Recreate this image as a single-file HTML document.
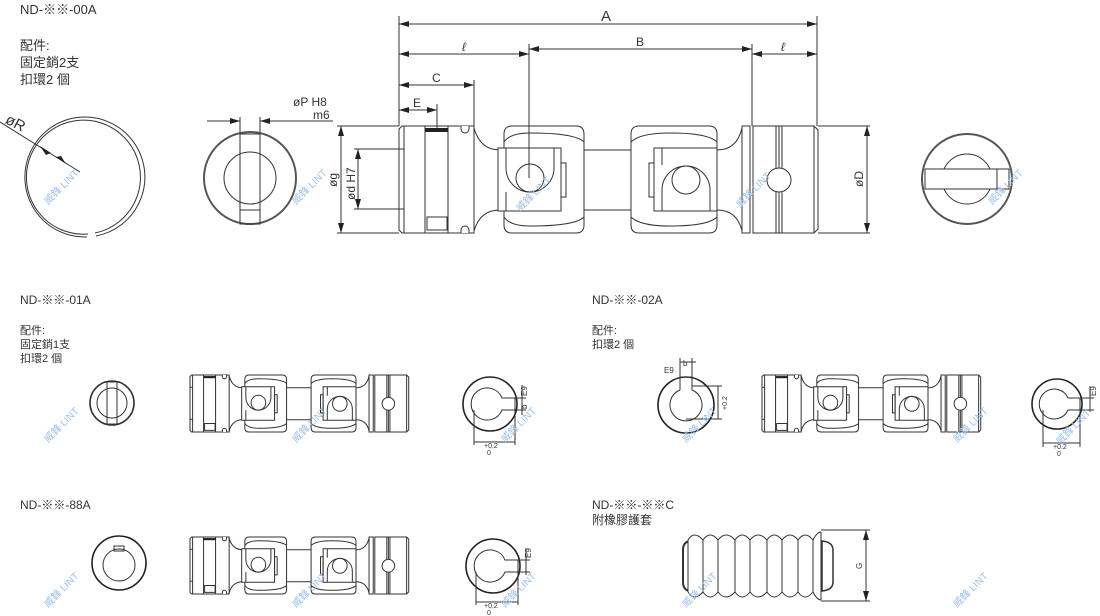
<!DOCTYPE html>
<html><head><meta charset="utf-8"><style>
html,body{margin:0;padding:0;background:#fff;}
svg{display:block;}
text{font-family:"Liberation Sans","Noto Sans CJK TC",sans-serif;fill:#333;}
.l{fill:none;stroke:#333;stroke-width:1;vector-effect:non-scaling-stroke;}
.w{fill:#fff;stroke:#333;stroke-width:1;vector-effect:non-scaling-stroke;}
.wm text{font-size:10px;fill:#9cc0ea;}
</style></head><body>
<svg width="1100" height="616" viewBox="0 0 1100 616" xmlns="http://www.w3.org/2000/svg">
<defs>
<marker id="ar" markerWidth="10" markerHeight="6" refX="10" refY="3" orient="auto-start-reverse" markerUnits="userSpaceOnUse"><path d="M0,0 L10,3 L0,6 z" fill="#222"/></marker>
<g id="cp">
 <path class="w" d="M402,126 H474 V233 H402 L399,230 V129 Z"/>
 <line class="l" x1="404" y1="126" x2="404" y2="233"/>
 <line class="l" x1="399" y1="149" x2="404" y2="149"/><line class="l" x1="399" y1="209" x2="404" y2="209"/>
 <rect class="w" x="425" y="126" width="23" height="107"/>
 <rect x="425" y="128" width="23" height="4" fill="#222"/>
 <rect class="l" x="427" y="217" width="20" height="13"/>
 <path class="w" d="M461,126 v3 a4,4 0 0 0 8,0 v-3"/><path class="w" d="M461,233 v-3 a4,4 0 0 1 8,0 v3"/>
 <path class="l" d="M474,128 Q480,150 500,150 M474,231 Q480,210 500,210"/>
 <path class="w" d="M512,126 H576 Q584,126 584,134 V225 Q584,233 576,233 H512 Q504,233 504,225 V134 Q504,126 512,126 Z"/>
 <path class="l" d="M504,142 Q510,133 530,133 Q575,133 584,142 M504,217 Q510,226 530,226 Q575,226 584,217"/>
 <rect class="w" x="498" y="148" width="63" height="63"/>
 <path class="l" d="M506,148 V168 A24,24 0 0 0 554,168 V148 M506,211 V192"/>
 <circle class="l" cx="530" cy="178" r="14"/>
 <rect class="l" x="561" y="163" width="5" height="34"/>
 <line class="l" x1="584" y1="150" x2="631" y2="150"/><line class="l" x1="584" y1="210" x2="631" y2="210"/>
 <path class="w" d="M639,126 H709 Q717,126 717,134 V225 Q717,233 709,233 H639 Q631,233 631,225 V134 Q631,126 639,126 Z"/>
 <path class="l" d="M631,142 Q640,133 670,133 Q708,133 717,142 M631,217 Q640,226 670,226 Q708,226 717,217"/>
 <rect class="w" x="654" y="148" width="63" height="63"/>
 <path class="l" d="M662,211 V190 A24,24 0 0 1 710,190 V211 M662,148 V165"/>
 <circle class="l" cx="686" cy="180" r="14"/>
 <rect class="l" x="649" y="163" width="5" height="34"/>
 <path class="l" d="M717,150 Q737,150 742,128 M717,210 Q737,210 742,231"/>
 <rect class="w" x="742" y="126" width="8" height="107"/>
 <path class="w" d="M753,126 H814 L818,130 V229 L814,233 H753 Z"/>
 <line class="l" x1="776" y1="126" x2="776" y2="233"/><line class="l" x1="779" y1="126" x2="779" y2="233"/><line class="l" x1="782" y1="126" x2="782" y2="233"/>
 <circle class="w" cx="779" cy="180" r="12"/>
 <line class="l" x1="814" y1="126" x2="814" y2="233"/>
</g>
</defs>

<text x="20" y="14" font-size="13">ND-※※-00A</text>
<text x="20" y="50" font-size="13">配件:</text>
<text x="20" y="67" font-size="13">固定銷2支</text>
<text x="20" y="84" font-size="13">扣環2 個</text>

<!-- snap ring -->
<path class="l" d="M96,236 A60,60 0 1 0 87,237"/>
<path class="l" d="M95,233 A57,57 0 1 0 88,234"/>
<line class="l" x1="0" y1="122" x2="80" y2="172"/>
<path d="M40,146 L51,153 L46,155 z" fill="#222"/><path d="M66,164 L56,157 L61,156 z" fill="#222"/>
<text x="6" y="128" font-size="15" transform="rotate(28 16 122)">øR</text>

<!-- left end view -->
<circle cx="250" cy="178" r="46" fill="none" stroke="#555" stroke-width="2"/>
<circle class="l" cx="250" cy="178" r="26"/>
<rect class="l" x="240" y="134" width="20" height="90"/>
<line class="l" x1="240" y1="210" x2="260" y2="210"/>
<line class="l" x1="240" y1="117" x2="240" y2="134"/><line class="l" x1="260" y1="117" x2="260" y2="134"/>
<line class="l" x1="207" y1="121" x2="240" y2="121" marker-end="url(#ar)"/>
<line class="l" x1="333" y1="121" x2="260" y2="121" marker-end="url(#ar)"/>
<text x="293" y="106" font-size="12">øP  H8</text>
<text x="313" y="119" font-size="12">m6</text>

<use href="#cp"/>
<g class="l">
<line x1="399" y1="16" x2="399" y2="126"/><line x1="817" y1="16" x2="817" y2="126"/>
<line x1="529" y1="44" x2="529" y2="178"/><line x1="752" y1="44" x2="752" y2="126"/>
<line x1="474" y1="80" x2="474" y2="126"/><line x1="437" y1="104" x2="437" y2="128"/>
<line x1="818" y1="126" x2="870" y2="126"/><line x1="818" y1="233" x2="870" y2="233"/>
<line x1="337" y1="126" x2="399" y2="126"/><line x1="337" y1="233" x2="399" y2="233"/>
<line x1="354" y1="149" x2="399" y2="149"/><line x1="354" y1="209" x2="399" y2="209"/>
</g>
<line class="l" x1="399" y1="24" x2="817" y2="24" marker-start="url(#ar)" marker-end="url(#ar)"/>
<line class="l" x1="399" y1="54" x2="529" y2="54" marker-start="url(#ar)" marker-end="url(#ar)"/>
<line class="l" x1="529" y1="49" x2="752" y2="49" marker-start="url(#ar)" marker-end="url(#ar)"/>
<line class="l" x1="752" y1="54" x2="817" y2="54" marker-start="url(#ar)" marker-end="url(#ar)"/>
<line class="l" x1="399" y1="85" x2="474" y2="85" marker-start="url(#ar)" marker-end="url(#ar)"/>
<line class="l" x1="399" y1="110" x2="437" y2="110" marker-start="url(#ar)" marker-end="url(#ar)"/>
<line class="l" x1="341" y1="126" x2="341" y2="233" marker-start="url(#ar)" marker-end="url(#ar)"/>
<line class="l" x1="358" y1="149" x2="358" y2="209" marker-start="url(#ar)" marker-end="url(#ar)"/>
<line class="l" x1="867" y1="126" x2="867" y2="233" marker-start="url(#ar)" marker-end="url(#ar)"/>
<text x="601" y="21" font-size="15">A</text>
<text x="636" y="46" font-size="12">B</text>
<text x="462" y="51" font-size="12" font-style="italic">ℓ</text>
<text x="781" y="51" font-size="12" font-style="italic">ℓ</text>
<text x="432" y="82" font-size="12">C</text>
<text x="413" y="107" font-size="12">E</text>
<text font-size="12" transform="translate(337,187) rotate(-90)">øg</text>
<text font-size="12" transform="translate(355,200) rotate(-90)">ød  H7</text>
<text font-size="12" transform="translate(863,187) rotate(-90)">øD</text>

<circle cx="967" cy="179" r="45" fill="none" stroke="#555" stroke-width="2"/>
<circle class="l" cx="967" cy="179" r="25"/>
<rect class="w" x="925" y="169" width="72" height="20"/>
<rect class="l" x="997" y="169" width="12" height="20"/>

<text x="20" y="304" font-size="12">ND-※※-01A</text>
<text x="20" y="334" font-size="11">配件:</text>
<text x="20" y="348" font-size="11">固定銷1支</text>
<text x="20" y="362" font-size="11">扣環2 個</text>
<text x="592" y="304" font-size="12">ND-※※-02A</text>
<text x="592" y="334" font-size="11">配件:</text>
<text x="592" y="348" font-size="11">扣環2 個</text>

<circle cx="112" cy="403" r="22" fill="none" stroke="#333" stroke-width="1.6"/>
<circle class="l" cx="112" cy="403" r="15"/>
<rect class="l" x="107" y="382" width="10" height="42"/>
<use href="#cp" transform="translate(190,375) scale(0.522,0.533) translate(-399,-126)"/>
<circle cx="490" cy="404" r="27" fill="none" stroke="#222" stroke-width="1.6"/>
<path class="l" d="M502,398 A16,16 0 1 0 502,410 H515 V398 Z"/>
<g class="l"><line x1="503" y1="398" x2="526" y2="398"/><line x1="503" y1="410" x2="526" y2="410"/><line x1="522" y1="385" x2="522" y2="415"/>
<line x1="474" y1="410" x2="474" y2="445"/><line x1="515" y1="410" x2="515" y2="445"/><line x1="474" y1="442" x2="515" y2="442"/></g>
<text font-size="8" transform="translate(527,396) rotate(-90)">E9</text>
<text font-size="8" transform="translate(527,409) rotate(-90)">b</text>
<text x="484" y="448" font-size="7">+0.2</text><text x="487" y="455" font-size="7">0</text>

<circle cx="686" cy="405" r="28" fill="none" stroke="#222" stroke-width="1.6"/>
<path class="l" d="M680,390 A16,16 0 1 0 692,390 V377 H680 Z"/>
<g class="l"><line x1="680" y1="358" x2="680" y2="377"/><line x1="692" y1="358" x2="692" y2="377"/><line x1="680" y1="362" x2="696" y2="362"/>
<line x1="692" y1="386" x2="722" y2="386"/><line x1="686" y1="419" x2="722" y2="419"/><line x1="718" y1="386" x2="718" y2="419"/></g>
<text x="664" y="373" font-size="8">E9</text><text x="683" y="366" font-size="8">b</text>
<text font-size="7" transform="translate(727,410) rotate(-90)">+0.2</text>
<use href="#cp" transform="translate(762,375) scale(0.522,0.533) translate(-399,-126)"/>
<circle cx="1057" cy="404" r="25" fill="none" stroke="#222" stroke-width="1.6"/>
<path class="l" d="M1068,398 A15,15 0 1 0 1068,410 H1080 V398 Z"/>
<g class="l"><line x1="1068" y1="398" x2="1094" y2="398"/><line x1="1068" y1="410" x2="1094" y2="410"/><line x1="1090" y1="386" x2="1090" y2="412"/>
<line x1="1043" y1="410" x2="1043" y2="447"/><line x1="1080" y1="410" x2="1080" y2="447"/><line x1="1043" y1="443" x2="1080" y2="443"/></g>
<text font-size="8" transform="translate(1096,396) rotate(-90)">E9</text>
<text x="1053" y="449" font-size="7">+0.2</text><text x="1057" y="456" font-size="7">0</text>

<text x="20" y="509" font-size="12">ND-※※-88A</text>
<circle cx="119" cy="563" r="27" fill="none" stroke="#222" stroke-width="1.6"/>
<circle class="l" cx="119" cy="565" r="16"/>
<rect class="l" x="114" y="546" width="10" height="5"/>
<use href="#cp" transform="translate(190,537) scale(0.522,0.533) translate(-399,-126)"/>
<circle cx="493" cy="566" r="27" fill="none" stroke="#222" stroke-width="1.6"/>
<path class="l" d="M505,560 A16,16 0 1 0 505,572 H518 V560 Z"/>
<g class="l"><line x1="505" y1="560" x2="530" y2="560"/><line x1="505" y1="572" x2="530" y2="572"/><line x1="526" y1="548" x2="526" y2="575"/>
<line x1="476" y1="572" x2="476" y2="605"/><line x1="518" y1="572" x2="518" y2="605"/><line x1="476" y1="602" x2="518" y2="602"/></g>
<text font-size="8" transform="translate(531,558) rotate(-90)">E9</text>
<text x="484" y="608" font-size="7">+0.2</text><text x="487" y="615" font-size="7">0</text>

<text x="592" y="509" font-size="12">ND-※※-※※C</text>
<text x="592" y="524" font-size="12">附橡膠護套</text>
<!-- bellows -->
<path d="M690,541 Q683,542 683,550 V582 Q683,590 690,591 Z" fill="#fff" stroke="#333" stroke-width="2"/>
<path d="M822,541 Q833,542 833,550 V582 Q833,590 822,591 Z" fill="#fff" stroke="#333" stroke-width="1.5"/>
<g class="l">
<path fill="#fff" d="M688,540 Q694,531 703,531 L718,531 L735,531 L750,531 L767,531 L782,531 L798,531 L813,531 L821,531 L821,601 L688,595 Z" stroke="none"/>
<path d="M688,540 Q694,530 703,540 Q710,530 718,540 Q726,530 735,540 Q742,530 750,540 Q758,530 767,540 Q774,530 782,540 Q790,530 798,540 Q805,530 813,540 Q817,532 821,532"/>
<path d="M688,592 Q694,602 703,592 Q710,602 718,592 Q726,602 735,592 Q742,602 750,592 Q758,602 767,592 Q774,602 782,592 Q790,602 798,592 Q805,602 813,592 Q817,600 821,600"/>
<path d="M688,540 V592 M703,540 V592 M718,540 V592 M735,540 V592 M750,540 V592 M767,540 V592 M782,540 V592 M798,540 V592 M813,540 V592 M821,532 V600"/>
<line x1="821" y1="530" x2="870" y2="530"/><line x1="821" y1="601" x2="870" y2="601"/>
</g>
<line class="l" x1="866" y1="530" x2="866" y2="601" marker-start="url(#ar)" marker-end="url(#ar)"/>
<text font-size="8" transform="translate(862,569) rotate(-90)">G</text>

<g class="wm">
<text transform="translate(48,205) rotate(-45)">威鋒 LINT</text>
<text transform="translate(296,205) rotate(-45)">威鋒 LINT</text>
<text transform="translate(520,212) rotate(-45)">威鋒 LINT</text>
<text transform="translate(740,208) rotate(-45)">威鋒 LINT</text>
<text transform="translate(992,205) rotate(-45)">威鋒 LINT</text>
<text transform="translate(48,443) rotate(-45)">威鋒 LINT</text>
<text transform="translate(296,443) rotate(-45)">威鋒 LINT</text>
<text transform="translate(505,443) rotate(-45)">威鋒 LINT</text>
<text transform="translate(686,443) rotate(-45)">威鋒 LINT</text>
<text transform="translate(957,443) rotate(-45)">威鋒 LINT</text>
<text transform="translate(1060,445) rotate(-45)">威鋒 LINT</text>
<text transform="translate(48,608) rotate(-45)">威鋒 LINT</text>
<text transform="translate(296,608) rotate(-45)">威鋒 LINT</text>
<text transform="translate(505,608) rotate(-45)">威鋒 LINT</text>
<text transform="translate(686,608) rotate(-45)">威鋒 LINT</text>
<text transform="translate(957,608) rotate(-45)">威鋒 LINT</text>
</g>
</svg>
</body></html>
